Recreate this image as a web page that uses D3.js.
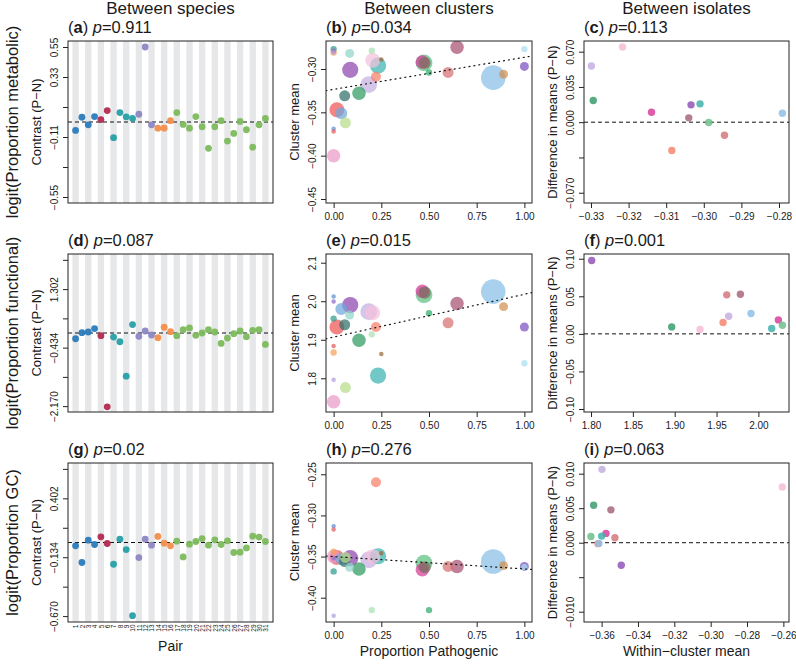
<!DOCTYPE html>
<html><head><meta charset="utf-8">
<script src="https://cdn.jsdelivr.net/npm/d3@7"></script>
<style>body{margin:0;background:#fff} text{font-family:"Liberation Sans",Arial,Helvetica,sans-serif;font-weight:normal;fill:#1a1a1a}</style>
</head><body><svg id="chart" width="796" height="665"></svg>
<script>
// ---------------- DATA ----------------
const columnTitles = ["Between species", "Between clusters", "Between isolates"];
const rowTitles = ["logit(Proportion metabolic)", "logit(Proportion functional)", "logit(Proportion GC)"];
const panelLetters = [["a","b","c"],["d","e","f"],["g","h","i"]];
const pValues = [["0.911","0.034","0.113"],["0.087","0.015","0.001"],["0.02","0.276","0.063"]];

// Between species: 31 pairs
const pairs = d3.range(1, 32);
const pairGroup = [0,0,0,0,1,1,2,2,2,2,3,3,3,4,4,4,5,5,5,5,5,5,5,5,5,5,5,5,5,5,5];
const groupColors = ["#2b7bba","#b22a50","#26a0a6","#8c86c4","#f28e4c","#7dbb5c"];
const contrastMetabolic = [-0.062,0.035,-0.021,0.040,0.018,0.084,-0.115,0.069,0.038,0.026,0.057,0.55,-0.021,-0.045,-0.045,0.010,0.069,-0.018,-0.045,0.040,-0.035,-0.193,-0.035,0.010,-0.140,-0.084,0.004,-0.057,-0.185,-0.021,0.026];
const contrastFunctional = [-0.17,0.01,0.03,0.13,-0.08,-2.19,-0.12,-0.26,-1.28,0.25,-0.10,0.06,-0.06,-0.14,0.17,0.04,-0.08,0.10,0.15,-0.07,0.0,0.10,0.03,-0.31,-0.15,-0.02,0.06,-0.11,0.08,0.10,-0.34];
const contrastGC = [-0.030,-0.182,0.021,-0.018,0.052,-0.009,-0.198,0.030,-0.064,-0.666,-0.137,0.030,-0.024,0.055,-0.006,-0.030,0.012,-0.131,-0.015,0.009,0.036,-0.024,0.024,-0.018,0.015,-0.091,-0.088,-0.049,0.058,0.049,0.009];
const contrastTicks = [[0.55,0.33,0.11,-0.11,-0.33,-0.55],[2.170,1.302,0.434,-0.434,-1.302,-2.170],[0.670,0.402,0.134,-0.134,-0.402,-0.670]];
const contrastTickLabels = [[0.55,0.33,-0.11,-0.55],[1.302,-0.434,-2.170],[0.402,-0.134,-0.670]];

// Between clusters
const clusterColors = ["#2e9c8c","#f5a05a","#5b8fd6","#e35a5a","#8b6cc8","#b39ddb","#ea9ac8","#f05454","#6fa8dc","#2f6f68","#b5dc8a","#8e44ad","#8fd6c8","#2e9a5e","#c5b0e0","#f5c0dc","#a8e0b0","#f7806a","#3bb3b0","#9a6a3a","#d83a9a","#5cc080","#7a6e5e","#2eaa6a","#d77070","#a65070","#88bfe6","#d09050","#7a4fbf","#a8def0"];
const clusterPropPathogenic = [0,0,0,0,0,0,0,0.017,0.04,0.058,0.062,0.087,0.084,0.133,0.184,0.205,0.20,0.222,0.233,0.25,0.465,0.474,0.478,0.5,0.60,0.647,0.837,0.891,1.0,1.0];
const clusterSize = [2,2,1,1,1,1,9,11,7,6,6,13,4,9,14,11,2,5,13,1,9,14,7,2,6,9,30,4,4,2];
const clusterMeanMetabolic = [-0.277,-0.281,-0.369,-0.372,-0.279,-0.281,-0.400,-0.347,-0.351,-0.331,-0.362,-0.301,-0.282,-0.328,-0.318,-0.290,-0.279,-0.309,-0.296,-0.289,-0.292,-0.293,-0.293,-0.304,-0.304,-0.275,-0.310,-0.306,-0.297,-0.277];
const clusterMeanFunctional = [1.955,1.867,2.012,1.884,1.999,1.796,1.739,1.933,1.980,1.939,1.776,1.990,1.964,1.899,1.973,1.970,1.914,1.933,1.807,1.863,2.026,2.017,2.022,1.969,1.944,1.994,2.025,1.986,1.933,1.839];
const clusterMeanGC = [-0.368,-0.344,-0.313,-0.317,-0.352,-0.422,-0.350,-0.351,-0.353,-0.356,-0.351,-0.352,-0.363,-0.365,-0.354,-0.350,-0.415,-0.2597,-0.3496,-0.346,-0.366,-0.358,-0.363,-0.415,-0.362,-0.362,-0.356,-0.361,-0.362,-0.363];
const clusterFits = [[-0.3235,0.037],[1.907,0.111],[-0.350,-0.015]]; // intercept, slope
const propTicks = [0,0.25,0.5,0.75,1];
const clusterYTicks = [[-0.30,-0.35,-0.40,-0.45],[1.8,1.9,2.0,2.1],[-0.25,-0.30,-0.35,-0.40]];

// Between isolates
const isolateColors = ["#c4aee0","#f7bcd6","#3a9d6d","#d9409a","#9157b8","#3fb3ad","#a8677a","#6cc08b","#d4787c","#f5866e","#8fc1e8"];
const isoMeanMetabolic = [-0.3299,-0.3216,-0.3294,-0.3139,-0.3034,-0.3010,-0.3040,-0.2987,-0.2945,-0.3085,-0.2791];
const isoDiffMetabolic = [0.0558,0.0746,0.0215,0.0099,0.0172,0.0182,0.0043,-0.0003,-0.0129,-0.0281,0.0089];
const isoMeanFunctional = [1.9645,1.9303,1.8964,2.0239,1.8008,2.0159,1.9785,2.0287,1.9622,1.9578,1.9912];
const isoDiffFunctional = [0.0235,0.0058,0.0093,0.0186,0.0976,0.0071,0.0528,0.0115,0.0519,0.0151,0.0271];
const isoMeanGC = [-0.3598,-0.2606,-0.3644,-0.3576,-0.3492,-0.3600,-0.3549,-0.3659,-0.3527,-0.3620,-0.3615];
const isoDiffGC = [0.01063,0.00808,0.00543,0.00135,-0.00327,0.00096,0.00476,0.00091,0.00072,-0.00014,-0.0001];
const isoXTicks = [[-0.33,-0.32,-0.31,-0.30,-0.29,-0.28],[1.80,1.85,1.90,1.95,2.00],[-0.36,-0.34,-0.32,-0.30,-0.28,-0.26]];
const isoYTicks = [[0.070,0.035,0,-0.035,-0.070],[0.10,0.05,0,-0.05,-0.10],[0.010,0.005,0,-0.005,-0.010]];
const isoYTickLabels = [[0.070,0.035,0,-0.070],[0.10,0.05,0,-0.05,-0.10],[0.010,0.005,0,-0.010]];

// ---------------- LAYOUT ----------------
const colX = [[68,273],[326,532],[584,789]];
const rowY = [[41,203],[254,412],[463,622]];
const svg = d3.select("#chart");
const stroke = "#222";

function frame(c, r){ return {x0:colX[c][0], x1:colX[c][1], y0:rowY[r][0], y1:rowY[r][1]}; }

function drawYAxis(f, y, ticks, labeled, fmt){
  const g = svg.append("g").attr("transform", `translate(${f.x0},0)`)
    .call(d3.axisLeft(y).tickValues(ticks).tickSize(5).tickFormat(t => labeled.some(l => Math.abs(l-t)<1e-9) ? fmt(t) : ""));
  g.select(".domain").remove();
  g.selectAll(".tick line").attr("stroke", stroke);
  g.selectAll(".tick text").attr("x", null).attr("dy", null).attr("y", -10.5)
    .attr("transform", "rotate(-90)").attr("text-anchor", "middle")
    .attr("font-size", 10).attr("font-family", null).attr("fill", "#1a1a1a");
}
function drawXAxis(f, x, ticks, fmt){
  const g = svg.append("g").attr("transform", `translate(0,${f.y1})`)
    .call(d3.axisBottom(x).tickValues(ticks).tickSize(5).tickPadding(5).tickFormat(fmt));
  g.select(".domain").remove();
  g.selectAll(".tick line").attr("stroke", stroke);
  g.selectAll(".tick text").attr("font-size", 10).attr("font-family", null).attr("fill", "#1a1a1a");
}
function drawBox(f){
  svg.append("rect").attr("x", f.x0).attr("y", f.y0).attr("width", f.x1-f.x0).attr("height", f.y1-f.y0)
    .attr("fill", "none").attr("stroke", stroke).attr("stroke-width", 1);
}
function panelLabel(f, letter, p){
  const t = svg.append("text").attr("x", f.x0).attr("y", f.y0 - 8.5).attr("font-size", 16.5);
  t.append("tspan").text("(");
  t.append("tspan").attr("font-weight", "bold").text(letter);
  t.append("tspan").text(") ");
  t.append("tspan").attr("font-style", "italic").text("p");
  t.append("tspan").text("=" + p);
}
function yTitle(f, text){
  svg.append("text").attr("transform", `translate(${f.x0-27},${(f.y0+f.y1)/2}) rotate(-90)`)
    .attr("text-anchor", "middle").attr("font-size", 13).text(text);
}
function zeroLine(f, y){
  svg.append("line").attr("x1", f.x0).attr("x2", f.x1).attr("y1", y(0)).attr("y2", y(0))
    .attr("stroke", "#111").attr("stroke-dasharray", "4,3").attr("stroke-width", 1);
}
function clipFor(f, id){
  svg.append("clipPath").attr("id", id).append("rect")
    .attr("x", f.x0).attr("y", f.y0).attr("width", f.x1-f.x0).attr("height", f.y1-f.y0);
  return `url(#${id})`;
}

// column titles
columnTitles.forEach((t, c) => {
  svg.append("text").attr("x", (colX[c][0]+colX[c][1])/2).attr("y", 14)
    .attr("text-anchor", "middle").attr("font-size", 17).text(t);
});
// row titles
rowTitles.forEach((t, r) => {
  svg.append("text").attr("transform", `translate(18,${(rowY[r][0]+rowY[r][1])/2}) rotate(-90)`)
    .attr("text-anchor", "middle").attr("font-size", 16.5).text(t);
});

// ---------- Column 1: between species ----------
const contrasts = [contrastMetabolic, contrastFunctional, contrastGC];
const contrastDomains = [[-0.594,0.594],[-2.3436,2.3436],[-0.7236,0.7236]];
const contrastFmt = [d3.format(".2f"), d3.format(".3f"), d3.format(".3f")];
contrasts.forEach((vals, r) => {
  const f = frame(0, r);
  const x = d3.scaleLinear().domain([-0.2, 32.2]).range([f.x0, f.x1]);
  const y = d3.scaleLinear().domain(contrastDomains[r]).range([f.y1, f.y0]);
  svg.append("g").selectAll("rect").data(pairs.filter(p => p % 2 === 1)).join("rect")
    .attr("x", d => x(d-0.5)).attr("width", d => x(d+0.5)-x(d-0.5))
    .attr("y", f.y0).attr("height", f.y1-f.y0).attr("fill", "#e6e7e9");
  zeroLine(f, y);
  svg.append("g").selectAll("circle").data(pairs).join("circle")
    .attr("cx", d => x(d)).attr("cy", (d,i) => y(vals[i])).attr("r", 3.4)
    .attr("fill", (d,i) => groupColors[pairGroup[i]]).attr("fill-opacity", 0.95);
  drawBox(f);
  drawYAxis(f, y, contrastTicks[r], contrastTickLabels[r], contrastFmt[r]);
  yTitle(f, "Contrast (P\u2212N)");
  panelLabel(f, panelLetters[r][0], pValues[r][0]);
  if (r === 2){
    const g = svg.append("g").attr("transform", `translate(0,${f.y1})`)
      .call(d3.axisBottom(x).tickValues(pairs).tickSize(0).tickFormat(d3.format("d")));
    g.select(".domain").remove();
    g.selectAll(".tick text").attr("y", null).attr("dy", null)
      .attr("transform", "rotate(-90)").attr("x", -2.5).attr("y", 2.3)
      .attr("text-anchor", "end").attr("font-size", 6.5).attr("font-family", null)
      .attr("fill", (d,i) => groupColors[pairGroup[i]]);
    svg.append("text").attr("x", (f.x0+f.x1)/2).attr("y", 651).attr("text-anchor", "middle")
      .attr("font-size", 14).text("Pair");
  }
});

// ---------- Column 2: between clusters ----------
const clusterMeans = [clusterMeanMetabolic, clusterMeanFunctional, clusterMeanGC];
const clusterDomains = [[-0.4546,-0.2677],[1.7125,2.1226],[-0.4295,-0.2363]];
const clusterYFmt = [d3.format(".2f"), d3.format(".1f"), d3.format(".2f")];
const rScale = d3.scaleSqrt().domain([0, 30]).range([0, 12.3]);
const order = d3.range(clusterSize.length).sort((a,b) => clusterSize[b]-clusterSize[a]);
clusterMeans.forEach((vals, r) => {
  const f = frame(1, r);
  const x = d3.scaleLinear().domain([-0.04, 1.04]).range([f.x0, f.x1]);
  const y = d3.scaleLinear().domain(clusterDomains[r]).range([f.y1, f.y0]);
  const clip = clipFor(f, "clipc" + r);
  svg.append("g").attr("clip-path", clip).selectAll("circle").data(order).join("circle")
    .attr("cx", i => x(clusterPropPathogenic[i])).attr("cy", i => y(vals[i]))
    .attr("r", i => rScale(clusterSize[i]))
    .attr("fill", i => clusterColors[i]).attr("fill-opacity", 0.72);
  const [b0, b1] = clusterFits[r];
  const xd = x.domain();
  svg.append("line").attr("clip-path", clip)
    .attr("x1", x(xd[0])).attr("y1", y(b0 + b1*xd[0])).attr("x2", x(xd[1])).attr("y2", y(b0 + b1*xd[1]))
    .attr("stroke", "#111").attr("stroke-width", 1.2).attr("stroke-dasharray", "1,4").attr("stroke-linecap", "round");
  drawBox(f);
  drawYAxis(f, y, clusterYTicks[r], clusterYTicks[r], clusterYFmt[r]);
  drawXAxis(f, x, propTicks, d3.format(".2f"));
  yTitle(f, "Cluster mean");
  panelLabel(f, panelLetters[r][1], pValues[r][1]);
});
svg.append("text").attr("x", (colX[1][0]+colX[1][1])/2).attr("y", 656).attr("text-anchor", "middle")
  .attr("font-size", 14).text("Proportion Pathogenic");

// ---------- Column 3: between isolates ----------
const isoX = [isoMeanMetabolic, isoMeanFunctional, isoMeanGC];
const isoY = [isoDiffMetabolic, isoDiffFunctional, isoDiffGC];
const isoXDomains = [[-0.33186,-0.27734],[1.7916,2.0366],[-0.3697,-0.2569]];
const isoYDomains = [[-0.0802,0.0806],[-0.104,0.1063],[-0.01149,0.01155]];
const isoXFmt = [d3.format(".2f"), d3.format(".2f"), d3.format(".2f")];
const isoYFmt = [d3.format(".3f"), d3.format(".2f"), d3.format(".3f")];
isoX.forEach((xs, r) => {
  const f = frame(2, r);
  const x = d3.scaleLinear().domain(isoXDomains[r]).range([f.x0, f.x1]);
  const y = d3.scaleLinear().domain(isoYDomains[r]).range([f.y1, f.y0]);
  zeroLine(f, y);
  svg.append("g").selectAll("circle").data(xs).join("circle")
    .attr("cx", d => x(d)).attr("cy", (d,i) => y(isoY[r][i])).attr("r", 3.7)
    .attr("fill", (d,i) => isolateColors[i]).attr("fill-opacity", 0.85);
  drawBox(f);
  drawYAxis(f, y, isoYTicks[r], isoYTickLabels[r], isoYFmt[r]);
  drawXAxis(f, x, isoXTicks[r], isoXFmt[r]);
  yTitle(f, "Difference in means (P\u2212N)");
  panelLabel(f, panelLetters[r][2], pValues[r][2]);
});
svg.append("text").attr("x", (colX[2][0]+colX[2][1])/2).attr("y", 656).attr("text-anchor", "middle")
  .attr("font-size", 14).text("Within\u2212cluster mean");
</script></body></html>
